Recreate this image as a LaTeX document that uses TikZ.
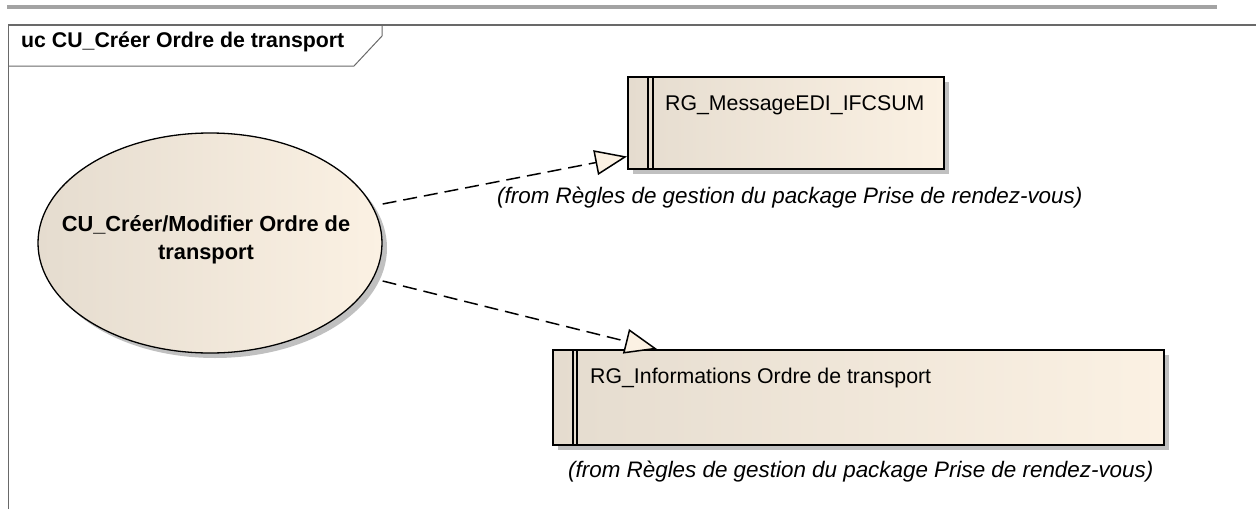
\documentclass[tikz,border=0pt]{standalone}
\usepackage{fontspec}
\setmainfont{Liberation Sans}
\usepackage{tikz}
\usetikzlibrary{
    positioning,
    arrows.meta,
    shapes.geometric,
    shadows
}
\definecolor{ucLeft}{RGB}{229, 220, 207}
\definecolor{ucRight}{RGB}{251, 241, 227}
\definecolor{frameGray}{RGB}{105, 105, 105}
\definecolor{barGray}{RGB}{163, 163, 163}
\definecolor{shadowGray}{RGB}{192, 192, 192}

\tikzset{
    ucshade/.style={left color=ucLeft, right color=ucRight},
    ucshadow/.style={drop shadow={shadow xshift=5pt, shadow yshift=-5pt, fill=shadowGray, opacity=1}},
    usecase/.style={ellipse, draw, line width=1.3pt, ucshade, ucshadow, minimum width=344pt, minimum height=220pt, inner sep=0pt},
    uctext/.style={align=center, inner sep=0pt, font=\fontsize{21.8}{28}\selectfont\bfseries},
    rulebox/.style={rectangle, draw, line width=1.5pt, ucshade, ucshadow, anchor=north west, inner sep=0pt},
    boxtext/.style={font=\fontsize{21.3}{24}\selectfont, anchor=base west, inner sep=0pt},
    fromtext/.style={font=\fontsize{22.4}{24}\selectfont\itshape, anchor=base west, inner sep=0pt},
    dep/.style={dash pattern=on 14pt off 7pt, line width=1.5pt, -{Triangle[length=32pt, width=25pt, fill=ucRight]}}
}

\begin{document}
\begin{tikzpicture}[x=1pt, y=-1pt]
    \useasboundingbox (0,0) rectangle (1256,509);

    % frame and tab
    \fill[barGray] (7,4.5) rectangle (1217,9);
    \draw[frameGray, line width=1.5pt] (8.5,509) -- (8.5,25) -- (1256,25);
    \draw[frameGray, line width=1pt] (8.5,66) -- (354,66) -- (382,36) -- (382,25);
    \node[font=\fontsize{21.3}{24}\selectfont\bfseries, anchor=base west, inner sep=0pt] (title) at (21,47) {uc CU\_Créer Ordre de transport};

    % use case
    \node[usecase] (cu) at (210,243) {};
    \node[uctext] (cuName) at ([xshift=-4pt, yshift=3pt]cu.center) {CU\_Créer/Modifier Ordre de\\transport};

    % rules
    \node[rulebox, minimum width=316pt, minimum height=92pt] (rgEdi) at (627,76) {};
    \draw[line width=1.2pt] ([xshift=21pt]rgEdi.north west) -- ([xshift=21pt]rgEdi.south west)
        ([xshift=26pt]rgEdi.north west) -- ([xshift=26pt]rgEdi.south west);
    \node[boxtext] (ediName) at ([xshift=38pt, yshift=-34pt]rgEdi.north west) {RG\_MessageEDI\_IFCSUM};
    \node[fromtext] (ediFrom) at (497,203) {(from Règles de gestion du package Prise de rendez-vous)};

    \node[rulebox, minimum width=611pt, minimum height=95pt] (rgInfo) at (552,349) {};
    \draw[line width=1.2pt] ([xshift=21pt]rgInfo.north west) -- ([xshift=21pt]rgInfo.south west)
        ([xshift=25pt]rgInfo.north west) -- ([xshift=25pt]rgInfo.south west);
    \node[boxtext] (infoName) at ([xshift=38pt, yshift=-34pt]rgInfo.north west) {RG\_Informations Ordre de transport};
    \node[fromtext] (infoFrom) at (568,477) {(from Règles de gestion du package Prise de rendez-vous)};

    % dependencies
    \draw[dep] ([yshift=39pt]cu.east) -- ([yshift=13pt]rgEdi.south west);
    \draw[dep] ([yshift=-38pt]cu.east) -- ([xshift=105pt]rgInfo.north west);
\end{tikzpicture}
\end{document}
